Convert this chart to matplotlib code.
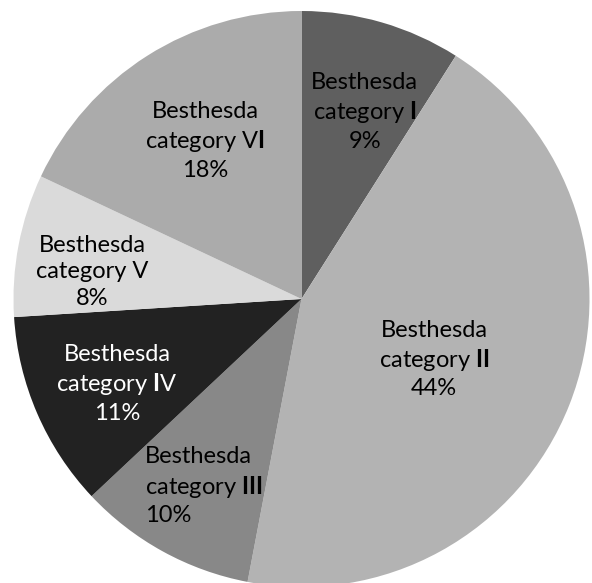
import matplotlib
matplotlib.use("Agg")
import matplotlib.pyplot as plt

plt.rcParams['font.family'] = ['Lato', 'DejaVu Sans']
plt.rcParams['mathtext.fontset'] = 'custom'
plt.rcParams['mathtext.rm'] = 'Lato'
plt.rcParams['mathtext.bf'] = 'Lato:bold'

categories = ["I", "II", "III", "IV", "V", "VI"]
shares = [9, 44, 10, 11, 8, 18]
colors = ["#5f5f5f", "#b3b3b3", "#888888", "#222222", "#dadada", "#ababab"]
text_colors = ["black", "black", "black", "white", "black", "black"]

# label anchor points in pie units (radius 1), and alignment
label_pos = [(0.22, 0.65), (0.46, -0.21), (-0.545, -0.65),
             (-0.64, -0.295), (-0.727, 0.095), (-0.335, 0.55)]
label_ha = ["center", "center", "left", "center", "center", "center"]

W, H = 592, 583
cx, cy, R = 301.5, 299, 288

fig = plt.figure(figsize=(W / 100, H / 100), dpi=100)
ax = fig.add_axes([(cx - R) / W, (H - cy - R) / H, 2 * R / W, 2 * R / H])

ax.pie(shares, colors=colors, startangle=90, counterclock=False,
       radius=1, wedgeprops=dict(linewidth=0))
ax.set_xlim(-1, 1)
ax.set_ylim(-1, 1)
ax.set_aspect('equal')
ax.axis('off')


def numeral(cat):
    # the strokes of "I" are set heavier than the V
    return "".join("$\\mathbf{I}$" if ch == "I" else ch for ch in cat)


for cat, val, (x, y), ha, tc in zip(categories, shares, label_pos,
                                     label_ha, text_colors):
    label = "Besthesda\ncategory %s\n%d%%" % (numeral(cat), val)
    ax.text(x, y, label, ha=ha, va='center', multialignment=ha,
            fontsize=17, color=tc, linespacing=1.32)

fig.savefig("out.png", dpi=100)
